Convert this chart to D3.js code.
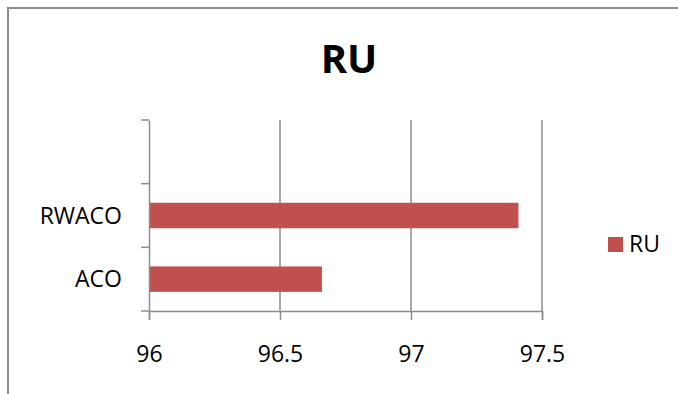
<!DOCTYPE html>
<html><head><meta charset="utf-8">
<script src="https://cdn.jsdelivr.net/npm/d3@7"></script>
<style>body{margin:0;background:#fff}svg{display:block}text{font-family:"Open Sans",sans-serif}</style>
</head><body><svg id="c" width="678" height="394"></svg>
<script>
const categories = ["ACO", "RWACO", ""];
const values = [96.66, 97.41, null];
const xTicks = [96, 96.5, 97, 97.5];
const seriesName = "RU";
const title = "RU";

const svg = d3.select("#c");
const gray = "#8c8c8c", red = "#c0504d";

svg.append("rect").attr("x", 8).attr("y", 8).attr("width", 720).attr("height", 420)
  .attr("fill", "#fff").attr("stroke", gray).attr("stroke-width", 2);

const x = d3.scaleLinear().domain([96, 97.5]).range([149, 542]);
const y = d3.scaleBand().domain(categories).range([311, 120]);

// gridlines
svg.append("g").selectAll("line").data(xTicks.slice(1)).join("line")
  .attr("x1", d => x(d)).attr("x2", d => x(d)).attr("y1", 120).attr("y2", 311)
  .attr("stroke", gray).attr("stroke-width", 1.5);

// bars
const bh = y.step() / 2.5;
svg.append("g").selectAll("rect").data(categories.map((c, i) => ({c, v: values[i]})).filter(d => d.v != null))
  .join("rect")
  .attr("x", x(96)).attr("y", d => y(d.c) + y.bandwidth() / 2 - bh / 2)
  .attr("width", d => x(d.v) - x(96)).attr("height", bh)
  .attr("fill", red);

// x axis
const xa = svg.append("g").attr("transform", "translate(0,311)")
  .call(d3.axisBottom(x).tickValues(xTicks).tickSize(9).tickFormat(d3.format("")));
xa.select(".domain").attr("stroke", gray).attr("stroke-width", 1.5);
xa.selectAll(".tick line").attr("stroke", gray).attr("stroke-width", 1.5);
xa.selectAll(".tick text").attr("font-size", 23).attr("fill", "#000").attr("dy", 0).attr("y", 51)
  .style("font-family", '"Open Sans",sans-serif');

// y axis
const ya = svg.append("g").attr("transform", "translate(149,0)")
  .call(d3.axisLeft(y).tickSize(0).tickPadding(27));
ya.select(".domain").attr("stroke", gray).attr("stroke-width", 1.5);
ya.selectAll(".tick text").attr("font-size", 23).attr("fill", "#000").attr("dy", "0.35em")
  .style("font-family", '"Open Sans",sans-serif');
// category boundary ticks
const bounds = categories.map(c => y(c)).concat([y(categories[categories.length - 1])]);
const edges = [311].concat(categories.map(c => y(c)));
svg.append("g").selectAll("line").data(d3.range(categories.length + 1)).join("line")
  .attr("x1", 141).attr("x2", 149)
  .attr("y1", i => 311 - i * y.step()).attr("y2", i => 311 - i * y.step())
  .attr("stroke", gray).attr("stroke-width", 1.5);

// title
svg.append("text").attr("x", 349).attr("y", 73).attr("text-anchor", "middle")
  .attr("font-size", 40).attr("font-weight", "bold").text(title);

// legend
svg.append("rect").attr("x", 608).attr("y", 237).attr("width", 15).attr("height", 15).attr("fill", red);
svg.append("text").attr("x", 629).attr("y", 252).attr("font-size", 23).text(seriesName);
</script></body></html>
